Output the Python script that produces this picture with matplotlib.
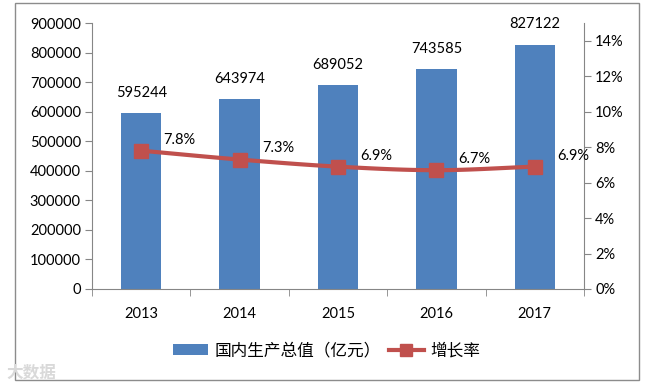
import numpy as np
import matplotlib
matplotlib.use("Agg")
import matplotlib.pyplot as plt
from matplotlib.patches import Rectangle
from matplotlib.lines import Line2D
from matplotlib.patches import Patch

plt.rcParams['font.family'] = ['Lato', 'Noto Sans CJK SC', 'DejaVu Sans']

years = ['2013', '2014', '2015', '2016', '2017']
gdp = [595244, 643974, 689052, 743585, 827122]
growth = [7.8, 7.3, 6.9, 6.7, 6.9]
gdp_label = '国内生产总值（亿元）'
growth_label = '增长率'

bar_color = '#4F81BD'
line_color = '#C0504D'
axis_color = '#868686'

fig = plt.figure(figsize=(6.57, 3.84), dpi=100)
fig.patch.set_facecolor('white')
# outer chart border
fig.add_artist(Rectangle((15/657, 1-380/384), (639-15)/657, (380-3)/384,
                         transform=fig.transFigure, fill=False,
                         edgecolor='#8c8c8c', linewidth=1.0))

ax = fig.add_axes([92/657, 1-289/384, (584-92)/657, (289-23)/384])
ax2 = ax.twinx()
ax.set_zorder(1)
ax2.set_zorder(2)
ax.patch.set_visible(False)

x = np.arange(len(years))
ax.bar(x, gdp, width=0.41, color=bar_color, zorder=2)
ax.set_xlim(-0.5, len(years) - 0.5)
ax.set_ylim(0, 900000)
ax.set_yticks(np.arange(0, 900001, 100000))
ax.set_yticklabels([str(v) for v in range(0, 900001, 100000)])
ax.set_xticks(x)
ax.set_xticklabels(years)
ax.set_xticks(np.arange(-0.5, len(years), 1.0), minor=True)
ax.tick_params(axis='x', which='major', length=0, pad=13, labelsize=10.5)
ax.tick_params(axis='x', which='minor', length=5, color=axis_color, direction='out')
ax.tick_params(axis='y', length=5, color=axis_color, labelsize=10.5, pad=3)

for sp in ['top', 'right']:
    ax.spines[sp].set_visible(False)
for sp in ['left', 'bottom']:
    ax.spines[sp].set_color(axis_color)

for xi, v in zip(x, gdp):
    ax.annotate(str(v), (xi, v), xytext=(0, 14.5), textcoords='offset points',
                ha='center', va='center', fontsize=10.5, color='black')

# smoothed line (Catmull-Rom through data points)
g = np.array(growth) / 100.0
pts = np.column_stack([x.astype(float), g])
ext = np.vstack([2*pts[0]-pts[1], pts, 2*pts[-1]-pts[-2]])
cx, cy = [], []
for i in range(1, len(ext)-2):
    p0, p1, p2, p3 = ext[i-1], ext[i], ext[i+1], ext[i+2]
    t = np.linspace(0, 1, 30)[:, None]
    c = 0.5*((2*p1) + (-p0+p2)*t + (2*p0-5*p1+4*p2-p3)*t**2 + (-p0+3*p1-3*p2+p3)*t**3)
    cx.extend(c[:, 0]); cy.extend(c[:, 1])
ax2.plot(cx, cy, color=line_color, linewidth=3, solid_capstyle='round', zorder=3)
ax2.plot(x, g, linestyle='none', marker='s', markersize=9.5, color=line_color, zorder=4)
ax2.set_ylim(0, 0.15)
ax2.set_yticks(np.arange(0, 0.141, 0.02))
ax2.set_yticklabels([f'{int(round(v*100))}%' for v in np.arange(0, 0.141, 0.02)])
ax2.tick_params(axis='y', length=5, color=axis_color, labelsize=10.5, pad=3)
for sp in ['top', 'left', 'bottom']:
    ax2.spines[sp].set_visible(False)
ax2.spines['right'].set_color(axis_color)

for xi, v in zip(x, growth):
    ax2.annotate(f'{v}%', (xi, v/100), xytext=(16, 8), textcoords='offset points',
                 ha='left', va='center', fontsize=10.5, color='black')

handles = [Patch(facecolor=bar_color, edgecolor='none'),
           Line2D([0], [0], color=line_color, linewidth=3, marker='s', markersize=9)]
fig.legend(handles, [gdp_label, growth_label], loc='center', bbox_to_anchor=(0.497, 1-351/384),
           ncol=2, frameon=False, handlelength=2.1, columnspacing=0.5,
           handletextpad=0.36, handleheight=0.6,
           prop={'family': ['Noto Sans CJK SC', 'DejaVu Sans'], 'size': 12})

fig.text(6/657, 1-372/384, '大数据', fontsize=12, color='#d9d9d9', fontweight='bold',
         family=['Noto Sans CJK SC'], ha='left', va='center')

fig.savefig('out.png', dpi=100, facecolor='white')
